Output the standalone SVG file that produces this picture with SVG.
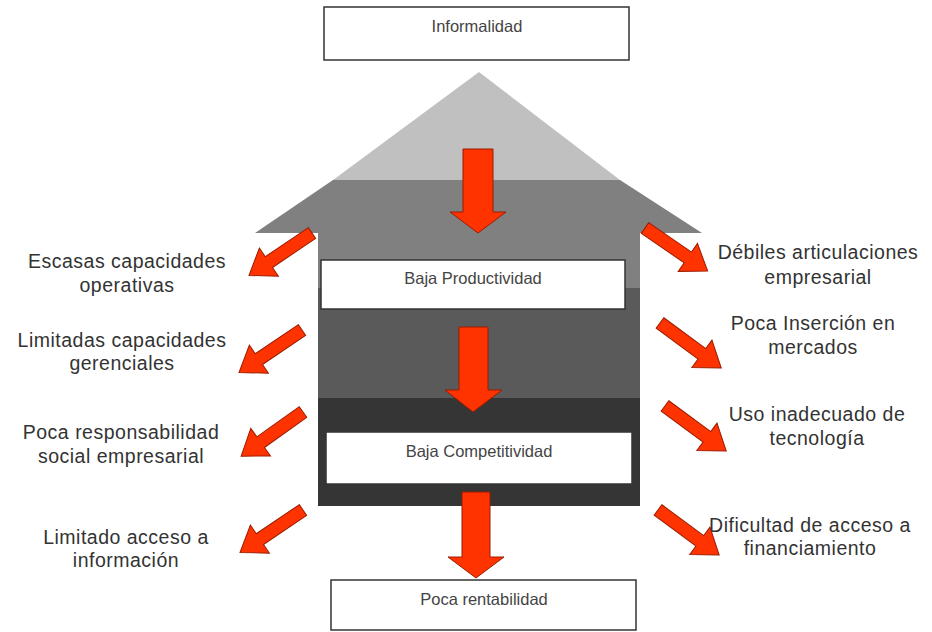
<svg xmlns="http://www.w3.org/2000/svg" xmlns:xlink="http://www.w3.org/1999/xlink" width="932" height="632" viewBox="0 0 932 632">
<style>
.box{fill:#ffffff;stroke:#333333;stroke-width:1.5}
.bt{font-family:"Liberation Sans",Arial,sans-serif;font-size:16.5px;fill:#444444;text-anchor:middle}
.lbl{font-family:"Liberation Sans",Arial,sans-serif;font-size:19.5px;letter-spacing:0.5px;fill:#333333;text-anchor:middle}
.arr{fill:#ff3300;stroke:#9a1c00;stroke-width:1}
</style>
<defs>
<path id="diag" d="M0,-6.5 L52,-6.5 L52,-17 L76,0 L52,17 L52,6.5 L0,6.5 Z"/>
</defs>
<rect width="932" height="632" fill="#ffffff"/>
<g id="house">
<polygon points="479,72 620,180 333,180" fill="#c0c0c0"/>
<polygon points="333,180 620,180 702,233 255,233" fill="#808080"/>
<rect x="318" y="233" width="322" height="56" fill="#808080"/>
<rect x="318" y="288" width="322" height="111" fill="#5a5a5a"/>
<rect x="318" y="398" width="322" height="108" fill="#353535"/>
</g>
<g id="informalidad">
<rect class="box" x="324" y="7" width="305" height="53"/>
<text class="bt" x="477" y="32">Informalidad</text>
</g>
<g id="baja-productividad">
<rect class="box" x="321" y="260" width="304" height="49"/>
<text class="bt" x="473" y="284">Baja Productividad</text>
</g>
<g id="baja-competitividad">
<rect class="box" x="326" y="432" width="306" height="52"/>
<text class="bt" x="479" y="457">Baja Competitividad</text>
</g>
<g id="poca-rentabilidad">
<rect class="box" x="331" y="580" width="305" height="50"/>
<text class="bt" x="484" y="605">Poca rentabilidad</text>
</g>
<g id="left-labels">
<g id="escasas"><text class="lbl" x="127" y="268">Escasas capacidades</text><text class="lbl" x="127" y="292">operativas</text></g>
<g id="limitadas"><text class="lbl" x="122" y="347">Limitadas capacidades</text><text class="lbl" x="122" y="370">gerenciales</text></g>
<g id="poca-resp"><text class="lbl" x="121" y="439">Poca responsabilidad</text><text class="lbl" x="121" y="463">social empresarial</text></g>
<g id="limitado-acceso"><text class="lbl" x="126" y="544">Limitado acceso a</text><text class="lbl" x="126" y="567">información</text></g>
</g>
<g id="right-labels">
<g id="debiles"><text class="lbl" x="818" y="259">Débiles articulaciones</text><text class="lbl" x="818" y="284">empresarial</text></g>
<g id="insercion"><text class="lbl" x="813" y="330">Poca Inserción en</text><text class="lbl" x="813" y="354">mercados</text></g>
<g id="tecnologia"><text class="lbl" x="817" y="421">Uso inadecuado de</text><text class="lbl" x="817" y="445">tecnología</text></g>
<g id="financiamiento"><text class="lbl" x="810" y="532">Dificultad de acceso a</text><text class="lbl" x="810" y="555">financiamiento</text></g>
</g>
<g id="connectors">
<path class="arr" d="M463,149 L493,149 L493,212 L506,212 L478,233 L450,212 L463,212 Z"/>
<path class="arr" d="M459,327 L488,327 L488,390 L502,390 L473,412 L445,390 L459,390 Z"/>
<path class="arr" d="M462,492 L490,492 L490,557 L504,557 L476,578 L448,557 L462,557 Z"/>
<use href="#diag" class="arr" transform="translate(312,233) rotate(146)"/>
<use href="#diag" class="arr" transform="translate(302,330) rotate(146)"/>
<use href="#diag" class="arr" transform="translate(303,412) rotate(144.5)"/>
<use href="#diag" class="arr" transform="translate(303,510) rotate(146)"/>
<use href="#diag" class="arr" transform="translate(645,228) rotate(34.5)"/>
<use href="#diag" class="arr" transform="translate(660,323) rotate(36.3)"/>
<use href="#diag" class="arr" transform="translate(665,406) rotate(36.3)"/>
<use href="#diag" class="arr" transform="translate(658,510) rotate(36.4)"/>
</g>
</svg>
